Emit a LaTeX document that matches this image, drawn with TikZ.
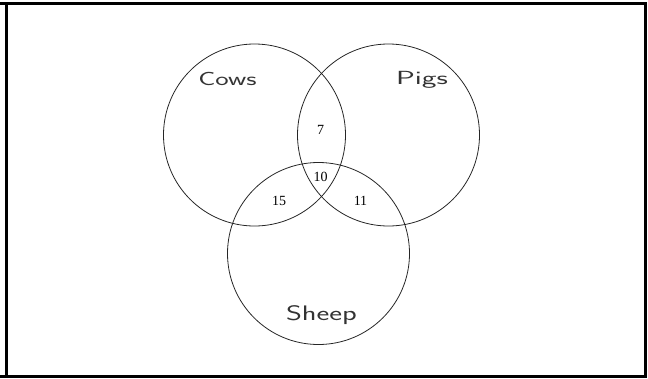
\documentclass[tikz,border=0pt]{standalone}
\usepackage{fontspec}
\newfontfamily\numfont{Liberation Serif}
\begin{document}
\begin{tikzpicture}[x=1pt,y=-1pt,
  setcircle/.style={circle,draw,line width=0.8pt,minimum size=182pt,inner sep=0pt,color=black!85},
  setlabel/.style={font=\sffamily\fontsize{19}{19}\selectfont,inner sep=0pt,anchor=base,color=black!80},
  numlabel/.style={font=\numfont\fontsize{14}{14}\selectfont,inner sep=0pt},
  frameline/.style={line width=3pt}]
\useasboundingbox (0,0) rectangle (648,378);
% frame
\coordinate (tl) at (0,3.5);
\coordinate (tr) at (647,3.5);
\coordinate (bl) at (0,376.5);
\coordinate (br) at (647,376.5);
\coordinate (lt) at (6.5,3.5);
\coordinate (lb) at (6.5,376.5);
\coordinate (rt) at (645.5,2);
\coordinate (rb) at (645.5,378);
\draw[frameline] (tl) -- (tr);
\draw[frameline] (bl) -- (br);
\draw[frameline] (lt) -- (lb);
\draw[frameline] (rt) -- (rb);
% circles
\node[setcircle] (cows) at (254.5,135) {};
\node[setcircle] (pigs) at (388.5,135) {};
\node[setcircle] (sheep) at (318.5,253.5) {};
% labels
\node[setlabel,xscale=1.5] (cowslbl) at (227.5,85) {Cows};
\node[setlabel,xscale=1.65] (pigslbl) at (422,84.5) {Pigs};
\node[setlabel,font=\sffamily\fontsize{21}{21}\selectfont,xscale=1.45] (sheeplbl) at (321.5,320) {Sheep};
% numbers
\node[numlabel] (n7) at (320.5,129.5) {7};
\node[numlabel] (n10) at (320.5,177) {10};
\node[numlabel] (n15) at (279,201) {15};
\node[numlabel] (n11) at (360.5,201) {11};
\end{tikzpicture}
\end{document}
